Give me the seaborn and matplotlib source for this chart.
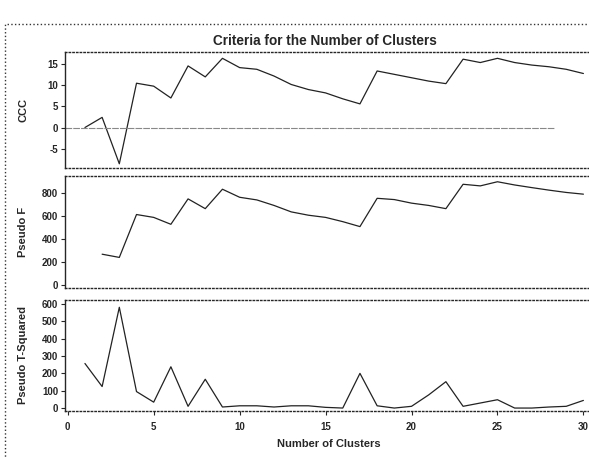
import numpy as np
import pandas as pd
import matplotlib
matplotlib.use("Agg")
import matplotlib.pyplot as plt
import seaborn as sns
from matplotlib.patches import Rectangle

clusters = [1, 2, 3, 4, 5, 6, 7, 8, 9, 10, 11, 12, 13, 14, 15,
            16, 17, 18, 19, 20, 21, 22, 23, 24, 25, 26, 27, 28, 29, 30]
ccc = [0.0, 2.4, -8.6, 10.5, 9.8, 7.0, 14.6, 12.0, 16.4, 14.2, 13.8, 12.2, 10.2, 9.0, 8.2,
       6.8, 5.6, 13.4, 12.6, 11.8, 11.0, 10.4, 16.2, 15.4, 16.4, 15.4, 14.8, 14.4, 13.8, 12.8]
pseudo_f = [np.nan, 268, 240, 613, 588, 528, 749, 664, 833, 763, 740, 692, 636, 607, 588,
            551, 508, 754, 743, 712, 692, 664, 876, 862, 898, 870, 847, 825, 805, 790]
pseudo_t2 = [257, 124, 581, 95, 34, 238, 10, 166, 6, 13, 13, 6, 13, 13, 4,
             0, 200, 13, 0, 10, 76, 152, 10, 29, 48, 0, 0, 6, 10, 44]

df = pd.DataFrame({"clusters": clusters, "CCC": ccc,
                   "Pseudo F": pseudo_f, "Pseudo T-Squared": pseudo_t2})

sns.set_style("white")
plt.rcParams['font.family'] = ['Liberation Sans', 'DejaVu Sans']
plt.rcParams['axes.unicode_minus'] = False

fig = plt.figure(figsize=(5.89, 4.59), dpi=100)
W, H = 589, 459

def add_panel(top, bottom):
    # pixel coords -> figure fraction, right edge runs off the page like the scan
    left, right = 65, 592
    return fig.add_axes([left / W, 1 - bottom / H, (right - left) / W, (bottom - top) / H])

ax1 = add_panel(52, 168)
ax2 = add_panel(176, 288)
ax3 = add_panel(300, 411)

line_kw = dict(color="#222222", linewidth=0.9)

sns.lineplot(data=df, x="clusters", y="CCC", ax=ax1, **line_kw)
ax1.axhline(0, color="#888888", linewidth=0.8, linestyle=(0, (6, 1)), xmax=0.93)
ax1.set_ylim(-9.6, 17.9)
ax1.set_yticks([-5, 0, 5, 10, 15])

sns.lineplot(data=df, x="clusters", y="Pseudo F", ax=ax2, **line_kw)
ax2.set_ylim(-26, 948)
ax2.set_yticks([0, 200, 400, 600, 800])

sns.lineplot(data=df, x="clusters", y="Pseudo T-Squared", ax=ax3, **line_kw)
ax3.set_ylim(-17, 623)
ax3.set_yticks([0, 100, 200, 300, 400, 500, 600])

for ax in (ax1, ax2, ax3):
    ax.set_xlim(-0.16, 30.5)
    ax.set_xticks([0, 5, 10, 15, 20, 25, 30])
    ax.tick_params(axis="both", labelsize=7, length=3, width=0.8, pad=2,
                   left=True, bottom=True, direction="out")
    for lab in ax.get_yticklabels():
        lab.set_fontweight("bold")
    for side in ("top", "right", "bottom"):
        ax.spines[side].set_linestyle(":")
        ax.spines[side].set_linewidth(1.0)
    ax.spines["left"].set_linewidth(1.0)
    ax.set_xlabel("")
    ax.yaxis.set_label_coords(-0.07, 0.5)

for ax in (ax1, ax2):
    ax.tick_params(axis="x", bottom=False, labelbottom=False)

ax1.set_ylabel("CCC", fontsize=8, fontweight="bold")
ax2.set_ylabel("Pseudo F", fontsize=8, fontweight="bold")
ax3.set_ylabel("Pseudo T-Squared", fontsize=8, fontweight="bold")
for lab in ax3.get_xticklabels():
    lab.set_fontweight("bold")
ax3.tick_params(axis="x", pad=5)
ax3.set_xlabel("Number of Clusters", fontsize=8, fontweight="bold", labelpad=5)

fig.text(325 / W, 1 - 41 / H, "Criteria for the Number of Clusters",
         ha="center", va="center", fontsize=9.8, fontweight="bold")

# dotted outer frame of the scanned page
fig.patches.append(Rectangle((5 / W, -0.01), 1.0, 1 - 19 / H,
                             transform=fig.transFigure, fill=False,
                             linestyle=":", linewidth=1.0, edgecolor="#333333"))

fig.savefig("out.png", dpi=100)
